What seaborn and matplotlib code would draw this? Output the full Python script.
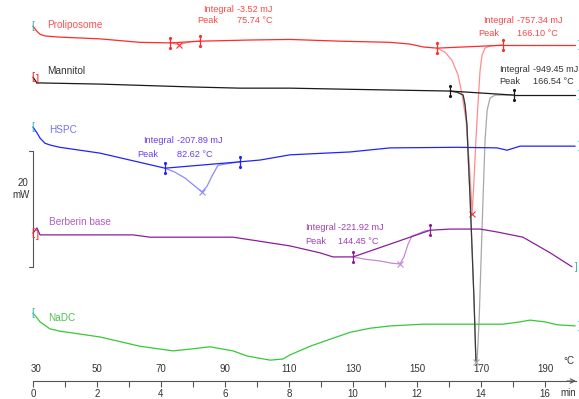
import numpy as np
import pandas as pd
import matplotlib
matplotlib.use("Agg")
import matplotlib.pyplot as plt
import seaborn as sns

# ---------------- data (temperature in °C, heat flow in mW, stacked display) ----------------
names = ["Proliposome", "Mannitol", "HSPC", "Berberin base", "NaDC"]

prolip_T = [30, 31.25, 32.2, 33.75, 38.4, 50.9, 63.4, 72.8, 75.7, 79.1, 82.2, 97.8, 110.3, 126.0,
            141.6, 147.8, 151.9, 156.25, 158.75, 160.9, 162.8, 164.1, 165.3, 166.25, 166.9, 167.2,
            167.8, 168.4, 169.1, 169.7, 170.3, 171.25, 172.8, 176.9, 199.4]
prolip_mW = [61.2, 60.3, 59.8, 59.5, 59.3, 59.0, 58.4, 58.3, 58.0, 58.5, 58.6, 58.8, 58.9, 58.6,
             58.4, 58.1, 57.6, 57.4, 56.7, 55.3, 52.8, 49.3, 45.0, 38.1, 32.1, 28.8,
             34.7, 41.55, 48.4, 53.6, 56.2, 57.4, 57.8, 57.9, 57.9]

mann_T = [30, 31.25, 32.2, 50.9, 80.0, 94.7, 110.3, 129.1, 160.3, 162.5, 164.4, 165.0, 165.6, 165.9,
          166.6, 167.2, 167.8, 168.4, 168.75, 169.4, 170.0, 170.6, 171.25, 171.9, 172.8, 174.4,
          180.3, 199.4]
mann_mW = [52.4, 51.4, 51.4, 51.2, 50.7, 50.5, 50.5, 50.3, 50.0, 49.8, 49.3, 47.6, 44.1, 39.8,
           31.2, 22.6, 14.0, 3.3, 3.3, 10.5, 20.9, 31.2, 41.55, 46.7, 48.8, 49.3,
           49.3, 49.3]

hspc_T = [30, 31.25, 32.2, 33.75, 35.3, 38.4, 50.9, 60.3, 71.25, 74.4, 77.5, 80.6, 82.8, 84.4,
          85.9, 87.8, 90.0, 94.7, 100.9, 110.3, 129.1, 141.6, 162.5, 175.0, 178.1, 182.2, 199.4]
hspc_mW = [43.8, 42.8, 41.9, 41.0, 40.7, 40.3, 39.3, 38.1, 36.7, 36.0, 35.0, 33.6, 32.6, 33.6,
           35.3, 37.2, 37.4, 37.8, 38.1, 39.0, 39.5, 40.2, 40.3, 40.2, 39.8, 40.5, 40.5]

berb_T = [30, 31.25, 32.2, 33.1, 61.25, 66.6, 82.2, 92.5, 100.9, 110.3, 119.7, 123.75, 130.0,
          133.75, 138.4, 142.2, 144.7, 145.9, 147.2, 148.4, 150.0, 152.5, 154.1, 160.3, 169.7,
          175.0, 183.1, 191.6, 198.4]
berb_mW = [25.5, 26.4, 25.2, 25.2, 25.2, 24.8, 24.8, 24.8, 24.1, 23.3, 22.1, 21.4, 21.4,
           21.0, 20.7, 20.3, 20.2, 21.4, 23.6, 25.0, 25.3, 25.9, 26.0, 26.2, 26.2,
           25.7, 24.8, 22.1, 19.7]

nadc_T = [30, 31.25, 32.2, 35.3, 38.4, 50.9, 63.4, 73.75, 79.1, 85.3, 92.5, 97.0, 104.1, 108.1,
          110.3, 116.6, 122.8, 129.1, 135.3, 141.6, 151.9, 176.9, 182.2, 185.3, 190.0, 193.75, 199.4]
nadc_mW = [11.7, 10.9, 10.2, 9.0, 8.6, 7.6, 6.0, 5.2, 5.5, 5.9, 5.2, 4.3, 3.6, 3.8,
           4.5, 6.0, 7.2, 8.4, 9.1, 9.5, 9.8, 9.8, 10.2, 10.5, 10.2, 9.7, 9.5]

# integration limits (°C) and peak results per curve
peaks = [
    # curve index, lo, hi, peak T, integral text, peak text
    (0, 72.8, 82.2, 75.7, "-3.52 mJ", "75.74 °C"),
    (0, 156.25, 176.9, 167.2, "-757.34 mJ", "166.10 °C"),
    (1, 160.3, 180.3, 168.4, "-949.45 mJ", "166.54 °C"),
    (2, 71.25, 94.7, 82.8, "-207.89 mJ", "82.62 °C"),
    (3, 130.0, 154.1, 144.7, "-221.92 mJ", "144.45 °C"),
]
# annotation anchor (°C, mW) for the Integral / Peak text blocks
ann_integral_pos = [(83.1, 64.1), (170.6, 62.1), (175.6, 53.8), (64.4, 41.55), (115.0, 26.4)]
ann_peak_pos = [(81.25, 62.1), (169.1, 60.0), (175.6, 51.7), (62.5, 39.1), (115.0, 24.1)]
ann_value_T = [93.75, 181.25, 186.25, 75.0, 125.3]

temp_ticks = [30, 50, 70, 90, 110, 130, 150, 170, 190]
min_ticks = [0, 2, 4, 6, 8, 10, 12, 14, 16]

label_pos = [(34.4, 61.4), (34.4, 53.4), (35.0, 43.3), (35.0, 27.4), (34.7, 10.9)]

# ---------------- style ----------------
sns.set_theme(style="white")
plt.rcParams["font.family"] = ["Liberation Sans Narrow", "Liberation Sans", "DejaVu Sans"]

main_col = ["#ff2a2a", "#1a1a1a", "#2222ff", "#8b1e9b", "#36c936"]
light_col = ["#ff8c8c", "#a8a8a8", "#8a8aff", "#c48ad2", "#36c936"]
text_col = ["#ff4545", "#333333", "#6a3cf0", "#a040b4", "#4fbf4f"]
label_col = ["#ff5050", "#333333", "#7373ee", "#b45cc8", "#4fbf4f"]
teal = "#29b3b3"
ann_fs = 6.6

Ts = [prolip_T, mann_T, hspc_T, berb_T, nadc_T]
Ys = [prolip_mW, mann_mW, hspc_mW, berb_mW, nadc_mW]

fig = plt.figure(figsize=(5.79, 3.99), dpi=100)
ax = fig.add_axes([0, 0, 1, 1])
ax.set_xlim(19.7, 200.6)
ax.set_ylim(-3.1, 65.7)

lw = 0.9
for i, (T, Y) in enumerate(zip(Ts, Ys)):
    df = pd.DataFrame({"T": np.array(T, float), "mW": np.array(Y, float)})
    inside = np.zeros(len(df), bool)
    for (ci, lo, hi, pk, _, _) in peaks:
        if ci == i:
            inside |= (df["T"] > lo) & (df["T"] < hi)
    seg_id = np.cumsum(np.r_[0, np.diff(inside.astype(int)) != 0])
    for s in np.unique(seg_id):
        idx = np.where(seg_id == s)[0]
        ins = inside[idx[0]]
        lo_i = max(idx[0] - 1, 0)
        hi_i = min(idx[-1] + 1, len(df) - 1)
        sub = df.iloc[lo_i:hi_i + 1] if ins else df.iloc[idx[0]:idx[-1] + 1]
        sns.lineplot(data=sub, x="T", y="mW", ax=ax, color=light_col[i] if ins else main_col[i],
                     lw=lw, sort=False, estimator=None, legend=False)
    t0, y0 = df["T"].iloc[0], df["mW"].iloc[0]
    t1, y1 = df["T"].iloc[-1], df["mW"].iloc[-1]
    if i in (1, 3):
        ax.text(t0, y0, "[", color="#ff2020", fontsize=8, ha="center", va="center")
        ax.text(t0 + 1.5, y0 - 0.3, "]", color="#ff2020", fontsize=8, ha="center", va="center")
    else:
        ax.text(t0, y0, "[", color=teal, fontsize=7, ha="center", va="center")
    ax.text(t1 + 0.8, y1, "]", color=teal, fontsize=7, ha="left", va="center")
    ax.text(label_pos[i][0], label_pos[i][1], names[i], color=label_col[i], fontsize=7.2,
            ha="left", va="center")

for k, (ci, lo, hi, pk, integ, ptxt) in enumerate(peaks):
    T = np.array(Ts[ci], float)
    Y = np.array(Ys[ci], float)
    ylo, yhi, ypk = np.interp(lo, T, Y), np.interp(hi, T, Y), np.interp(pk, T, Y)
    dark = main_col[ci]
    if ci == 1:
        m = (T >= lo) & (T <= pk)
        ax.plot(T[m], Y[m], color="#3a3a3a", lw=lw)
    ax.plot([lo, hi], [ylo, yhi], color=dark, lw=lw)
    for xx, yy in ((lo, ylo), (hi, yhi)):
        ax.plot([xx, xx], [yy - 0.9, yy + 0.9], color=dark, lw=0.9)
        ax.plot([xx, xx], [yy - 0.9, yy + 0.9], ls="none", marker=".", ms=2.5, color=dark)
    ax.plot([pk], [ypk], marker="x", ms=4, mew=0.8, color=light_col[ci] if ci != 0 else "#ff3030")
    ix, iy = ann_integral_pos[k]
    px, py = ann_peak_pos[k]
    vx = ann_value_T[k]
    ax.text(ix, iy, "Integral", color=text_col[ci], fontsize=ann_fs, ha="left", va="center")
    ax.text(vx, iy, integ, color=text_col[ci], fontsize=ann_fs, ha="left", va="center")
    ax.text(px, py, "Peak", color=text_col[ci], fontsize=ann_fs, ha="left", va="center")
    ax.text(vx, py, ptxt, color=text_col[ci], fontsize=ann_fs, ha="left", va="center")

# scale bar 20 mW
ax.plot([30, 30], [19.7, 39.7], color="#555555", lw=0.8)
ax.plot([28.8, 30], [39.7, 39.7], color="#555555", lw=0.8)
ax.plot([28.8, 30], [19.7, 19.7], color="#555555", lw=0.8)
ax.text(28.6, 34.1, "20", fontsize=7, ha="right", va="center", color="#333333")
ax.text(29.0, 32.0, "mW", fontsize=7, ha="right", va="center", color="#333333")

# x axis (time in min below, temperature above)
for s in ("top", "right", "left"):
    ax.spines[s].set_visible(False)
ax.spines["bottom"].set_position(("data", 0))
ax.spines["bottom"].set_bounds(30, 199.6)
ax.spines["bottom"].set_color("#555555")
ax.spines["bottom"].set_linewidth(0.8)
ax.set_xticks(np.arange(30, 191, 10))
ax.set_xticklabels([str(m) if j % 2 == 0 else "" for j, m in enumerate(range(0, 17))])
ax.tick_params(axis="x", direction="out", length=4, width=0.8, colors="#555555",
               labelsize=7, labelcolor="#333333", pad=2, bottom=True)
ax.set_yticks([])
ax.set_xlabel("")
ax.set_ylabel("")
for t in temp_ticks:
    ax.text(t + (1.0 if t == 30 else 0), 2.1, str(t), fontsize=7, ha="center", va="center",
            color="#333333")
ax.annotate("", xy=(200.5, 0), xytext=(196, 0),
            arrowprops=dict(arrowstyle="->", lw=0.8, color="#555555", mutation_scale=8))
ax.text(197.3, 3.4, "°C", fontsize=7, ha="center", va="center", color="#333333")
ax.text(197.3, -2.1, "min", fontsize=7, ha="center", va="center", color="#333333")

fig.savefig("out.png", dpi=100)
